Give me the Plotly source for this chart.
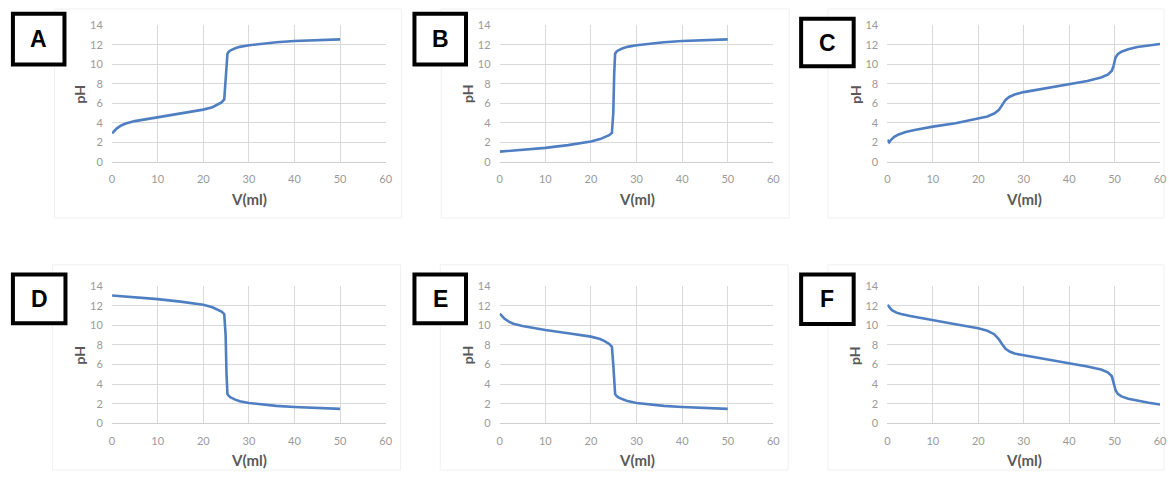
import plotly.graph_objects as go

W, H = 1171, 477

# ---- data ----
vA = [0, 0.5, 1, 2, 3, 5, 7.5, 10, 15, 20, 22, 23, 24, 24.6, 24.9, 25.1, 25.3, 25.6, 26, 27, 28, 30, 33, 36, 40, 45, 50]
pA = [2.9, 3.15, 3.4, 3.72, 3.92, 4.17, 4.38, 4.57, 4.95, 5.35, 5.6, 5.85, 6.1, 6.4, 8.5, 10.6, 11.1, 11.3, 11.45, 11.65, 11.8, 11.97, 12.15, 12.27, 12.4, 12.5, 12.57]

vB = [0, 5, 10, 15, 18, 20, 22, 23, 24, 24.6, 24.9, 25.1, 25.3, 25.6, 26, 27, 28, 30, 33, 36, 40, 45, 50]
pB = [1.03, 1.2, 1.42, 1.7, 1.9, 2.07, 2.32, 2.5, 2.72, 2.95, 5.0, 9.0, 11.1, 11.3, 11.45, 11.65, 11.8, 11.97, 12.15, 12.27, 12.4, 12.5, 12.57]

vC = [0, 0.4, 0.8, 1.5, 2.5, 4, 6, 10, 15, 20, 22, 23.5, 24.5, 25.3, 26, 26.8, 28, 30, 35, 40, 44, 47, 48.5, 49.4, 49.8, 50.2, 50.7, 51.5, 53, 55, 57.5, 60]
pC = [2.25, 2.0, 2.25, 2.55, 2.8, 3.05, 3.25, 3.6, 3.95, 4.4, 4.65, 4.95, 5.3, 5.85, 6.35, 6.65, 6.9, 7.15, 7.55, 7.94, 8.3, 8.65, 8.95, 9.35, 9.9, 10.7, 11.05, 11.3, 11.55, 11.78, 11.95, 12.1]

vD = [0, 5, 10, 15, 20, 22, 23, 24, 24.6, 24.9, 25.1, 25.3, 25.6, 26, 27, 28, 30, 33, 36, 40, 45, 50]
pD = [13.05, 12.9, 12.68, 12.42, 12.1, 11.85, 11.65, 11.4, 11.15, 9.0, 5.0, 3.0, 2.8, 2.65, 2.42, 2.25, 2.08, 1.9, 1.78, 1.67, 1.56, 1.48]

vE = [0, 0.5, 1, 2, 3, 5, 7.5, 10, 15, 20, 22, 23, 24, 24.6, 24.9, 25.1, 25.3, 25.6, 26, 27, 28, 30, 33, 36, 40, 45, 50]
pE = [11.2, 10.95, 10.7, 10.38, 10.17, 9.93, 9.72, 9.53, 9.2, 8.85, 8.6, 8.4, 8.1, 7.8, 6.0, 4.0, 3.0, 2.8, 2.65, 2.45, 2.27, 2.08, 1.9, 1.78, 1.67, 1.56, 1.48]

vF = [0, 0.5, 1, 2, 3, 5, 10, 15, 20, 22, 23.5, 24.5, 25.3, 26, 27, 28, 30, 35, 40, 44, 47, 48.5, 49.4, 49.8, 50.2, 50.7, 51.5, 53, 55, 57.5, 60]
pF = [12.1, 11.85, 11.55, 11.3, 11.15, 10.95, 10.5, 10.12, 9.7, 9.45, 9.1, 8.6, 8.05, 7.6, 7.3, 7.12, 6.95, 6.55, 6.12, 5.8, 5.5, 5.2, 4.8, 4.2, 3.4, 3.0, 2.75, 2.5, 2.3, 2.1, 1.92]

labels = ["A", "B", "C", "D", "E", "F"]
series = [(vA, pA), (vB, pB), (vC, pC), (vD, pD), (vE, pE), (vF, pF)]
x_ticks = [0, 10, 20, 30, 40, 50, 60]
y_ticks = [0, 2, 4, 6, 8, 10, 12, 14]

# ---- layout geometry (pixels) ----
col_x = [(110, 386), (501, 777), (892, 1167)]
row_y = [(19, 159), (287, 428)]
boxes = [(10, 7, 62, 59), (415, 7, 467, 59), (805, 12, 858, 61),
         (10, 275, 63, 325), (415, 275, 467, 325), (805, 275, 858, 326)]
chart_areas = [(52, 2, 402, 217), (442, 2, 793, 217), (832, 2, 1171, 217),
               (50, 265, 401, 476), (441, 265, 792, 476), (832, 265, 1171, 476)]

def px(x):
    return x / W

def py(y):
    return 1 - y / H

LINE = "#4f7fc2"
GRID = "#d9d9d9"
TICKC = "#9a9a9a"
TITLEC = "#595959"
FONT = "Lato"

fig = go.Figure()
shapes = []
annotations = []

for i, ((v, p), lab) in enumerate(zip(series, labels)):
    r, c = divmod(i, 3)
    x0, x1 = col_x[c]
    y0, y1 = row_y[r]
    xa = "xaxis" if i == 0 else f"xaxis{i+1}"
    ya = "yaxis" if i == 0 else f"yaxis{i+1}"
    xr = "x" if i == 0 else f"x{i+1}"
    yr = "y" if i == 0 else f"y{i+1}"
    fig.add_trace(go.Scatter(x=v, y=p, mode="lines", xaxis=xr, yaxis=yr,
                             line=dict(color=LINE, width=2.6), showlegend=False,
                             hoverinfo="skip"))
    fig.layout[xa] = dict(domain=[px(x0), px(x1)], anchor=yr, range=[0, 60],
                          tickvals=x_ticks, showgrid=True, gridcolor=GRID, gridwidth=1,
                          zeroline=False, showline=True, linecolor="#cfcfcf", linewidth=1,
                          ticks="outside", ticklen=7, tickcolor="rgba(0,0,0,0)",
                          tickfont=dict(family=FONT, size=11, color=TICKC),
                          fixedrange=True)
    fig.layout[ya] = dict(domain=[py(y1), py(y0)], anchor=xr, range=[0, 14],
                          tickvals=y_ticks, showgrid=True, gridcolor=GRID, gridwidth=1,
                          zeroline=False, showline=False,
                          ticks="outside", ticklen=6, tickcolor="rgba(0,0,0,0)",
                          tickfont=dict(family=FONT, size=11, color=TICKC),
                          fixedrange=True)
    ca = chart_areas[i]
    shapes.append(dict(type="rect", xref="paper", yref="paper",
                       x0=px(ca[0]), x1=px(ca[2]), y0=py(ca[3]), y1=py(ca[1]),
                       line=dict(color="#f0f0f0", width=1), fillcolor="rgba(0,0,0,0)",
                       layer="below"))
    b = boxes[i]
    shapes.append(dict(type="rect", xref="paper", yref="paper",
                       x0=px(b[0]), x1=px(b[2]), y0=py(b[3]), y1=py(b[1]),
                       line=dict(color="black", width=4), fillcolor="white", layer="above"))
    annotations.append(dict(text=f"<b>{lab}</b>", xref="paper", yref="paper",
                            x=px((b[0] + b[2]) / 2), y=py((b[1] + b[3]) / 2),
                            xanchor="center", yanchor="middle", showarrow=False,
                            font=dict(family="Arial", size=23, color="black")))
    annotations.append(dict(text="<b>pH</b>", xref="paper", yref="paper",
                            x=px(x0 - 33), y=py((y0 + y1) / 2 + 0.5), textangle=-90,
                            xanchor="center", yanchor="middle", showarrow=False,
                            font=dict(family=FONT, size=14, color=TITLEC)))
    annotations.append(dict(text="<b>V(ml)</b>", xref="paper", yref="paper",
                            x=px((x0 + x1) / 2), y=py(y1 + 38),
                            xanchor="center", yanchor="middle", showarrow=False,
                            font=dict(family=FONT, size=15, color=TITLEC)))

fig.update_layout(width=W, height=H, margin=dict(l=0, r=0, t=0, b=0),
                  paper_bgcolor="white", plot_bgcolor="white",
                  shapes=shapes, annotations=annotations)

fig.write_html("out.html", config={"displayModeBar": False},
               post_script="document.body.style.margin='0';document.body.style.padding='0';document.documentElement.style.overflow='hidden';")
